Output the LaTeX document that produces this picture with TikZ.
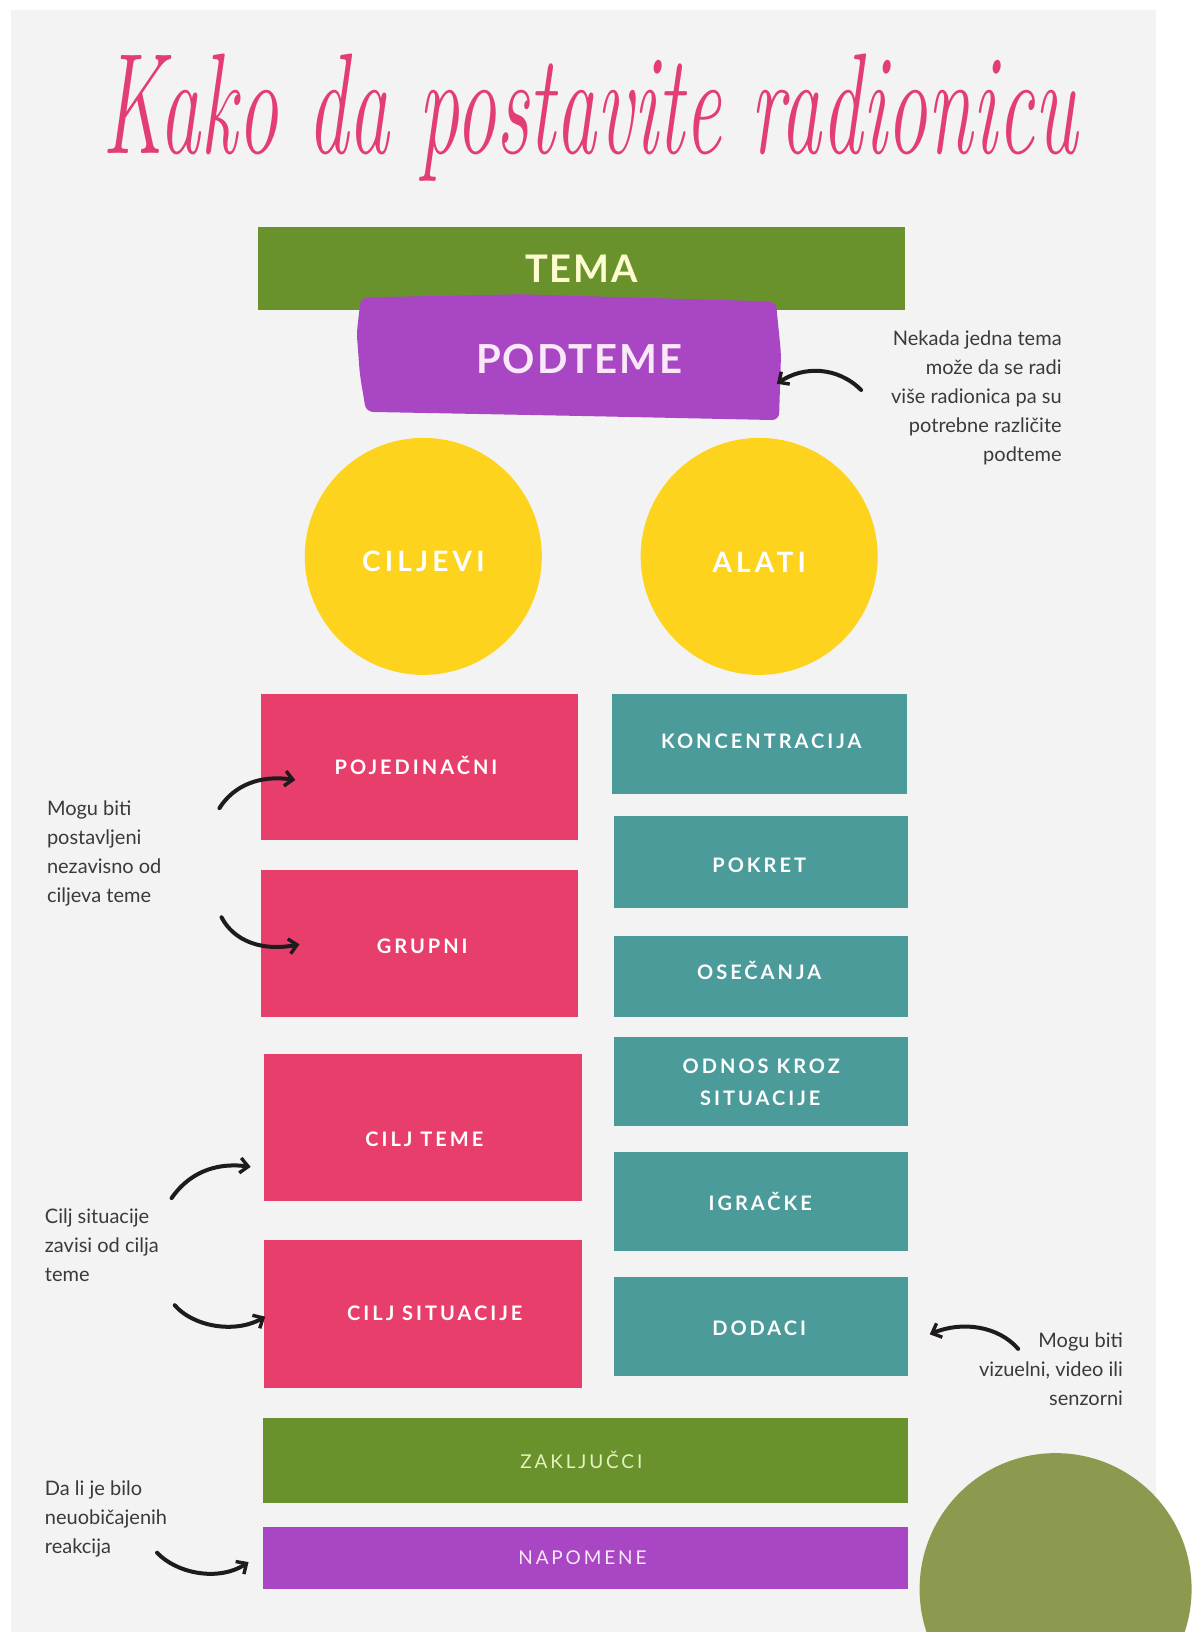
\documentclass[tikz,border=0pt]{standalone}
\usepackage{fontspec}
\usepackage{graphicx}
\usetikzlibrary{arrows.meta,fit}
\newfontfamily\labfont[LetterSpace=15]{Lato}
\newfontfamily\bigfont[LetterSpace=5]{Lato}
\newfontfamily\notefont{Lato}
\definecolor{bggrey}{HTML}{F3F3F3}
\definecolor{pinkc}{HTML}{E83E6C}
\definecolor{tealc}{HTML}{4A9B99}
\definecolor{yellowc}{HTML}{FDD31E}
\definecolor{greenc}{HTML}{6A922C}
\definecolor{purplec}{HTML}{A846C4}
\definecolor{olivec}{HTML}{8B9A4E}
\definecolor{titlec}{HTML}{E23D74}
\definecolor{notegrey}{HTML}{3A3A3A}
\definecolor{arrowc}{HTML}{1E1A1E}
\definecolor{temac}{HTML}{FDFCCF}
\definecolor{zakc}{HTML}{E6F3C0}
\definecolor{napc}{HTML}{F8E8F8}
\begin{document}
\begin{tikzpicture}[x=1.04pt,y=-1.04pt,
  boxfill/.style={inner sep=0pt, outer sep=0pt, draw=none},
  lab/.style={inner sep=0pt, text depth=0pt, text=white},
  boxlab/.style={lab, font=\labfont\bfseries\fontsize{20pt}{24pt}\selectfont, text height=14.4pt},
  circlab/.style={lab, font=\labfont\bfseries\fontsize{28pt}{32pt}\selectfont, text height=20.2pt},
  barlab/.style={lab, font=\labfont\fontsize{19pt}{24pt}\selectfont, text height=13.7pt},
  ycirc/.style={circle, fill=yellowc, minimum size=237pt, inner sep=0pt},
  note/.style={inner sep=0pt, text=notegrey, font=\notefont\fontsize{20pt}{29pt}\selectfont},
  hand/.style={draw=arrowc, line width=4pt, line cap=round,
    -{Straight Barb[length=8pt,width=15pt,line width=3.4pt]}}]
\useasboundingbox (0pt,0pt) rectangle (1191pt,-1632pt);
\fill[white] (0pt,0pt) rectangle (1191pt,-1632pt);
\fill[bggrey] (10.5,9.6) rectangle (1111.5,1570);

% title
\node[inner sep=0pt, text=titlec] (title) at (567,113)
  {\scalebox{1}[1.75]{\fontsize{82pt}{88pt}\selectfont\itshape Kako da postavite radionicu}};

% TEMA and PODTEME
\node[boxfill, fill=greenc, fit={(248,218) (870,298)}] (temabox) {};
\node[lab, text=temac, font=\bigfont\bfseries\fontsize{38pt}{42pt}\selectfont, text height=27.4pt] (tema) at (559,258) {TEMA};
\path[fill=purplec, rounded corners=7pt] (347,286) -- (500,283) -- (746,290) -- (751,340) -- (749,404) -- (560,400) -- (352,396) -- (346,360) -- (343,320) -- cycle;
\node[boxfill, fit={(343,283) (751,404)}] (podbox) {};
\node[lab, text=napc, font=\bigfont\bfseries\fontsize{40pt}{44pt}\selectfont, text height=28.8pt] (podteme) at (557,345) {PODTEME};

% circles
\node[ycirc] (ciljevi) at (407,535) {};
\node[circlab] (ciljevilab) at (407,540) {CILJEVI};
\node[ycirc] (alati) at (730,535) {};
\node[circlab] (alatilab) at (730,541) {ALATI};

% pink boxes
\node[boxfill, fill=pinkc, fit={(251,667) (556,808)}] (pojbox) {};
\node[boxlab] (poj) at (400,738) {POJEDINAČNI};
\node[boxfill, fill=pinkc, fit={(251,837) (556,978)}] (grubox) {};
\node[boxlab] (gru) at (406,910) {GRUPNI};
\node[boxfill, fill=pinkc, fit={(254,1013) (560,1155)}] (ctbox) {};
\node[boxlab] (ct) at (408,1095) {CILJ TEME};
\node[boxfill, fill=pinkc, fit={(254,1192) (560,1335)}] (csbox) {};
\node[boxlab] (cs) at (418,1263) {CILJ SITUACIJE};

% teal boxes
\node[boxfill, fill=tealc, fit={(588,667) (872,763)}] (konbox) {};
\node[boxlab] (kon) at (732,713) {KONCENTRACIJA};
\node[boxfill, fill=tealc, fit={(590,785) (873,873)}] (pokbox) {};
\node[boxlab] (pok) at (730,832) {POKRET};
\node[boxfill, fill=tealc, fit={(590,900) (873,978)}] (osebox) {};
\node[boxlab] (ose) at (730,935) {OSEČANJA};
\node[boxfill, fill=tealc, fit={(590,997) (873,1083)}] (odnbox) {};
\node[boxlab] (odn1) at (732,1025) {ODNOS KROZ};
\node[boxlab] (odn2) at (731,1056) {SITUACIJE};
\node[boxfill, fill=tealc, fit={(590,1108) (873,1203)}] (igrbox) {};
\node[boxlab] (igr) at (731,1157) {IGRAČKE};
\node[boxfill, fill=tealc, fit={(590,1228) (873,1323)}] (dodbox) {};
\node[boxlab] (dod) at (730,1277) {DODACI};

% bottom bars
\node[boxfill, fill=greenc, fit={(253,1363) (873,1445)}] (zakbox) {};
\node[barlab, text=zakc] (zak) at (559,1405) {ZAKLJUČCI};
\node[boxfill, fill=purplec, fit={(253,1468) (873,1528)}] (napbox) {};
\node[barlab, text=napc] (nap) at (560,1498) {NAPOMENE};

% decorative circle
\node[circle, fill=olivec, minimum size=272pt, inner sep=0pt] (olive) at (1015,1528) {};

% notes
\node[note, anchor=north east, align=right] (n1) at (1021,318)
  {Nekada jedna tema\\može da se radi\\više radionica pa su\\potrebne različite\\podteme};
\node[note, anchor=north west, align=left] (n2) at (45,770)
  {Mogu biti\\postavljeni\\nezavisno od\\ciljeva teme};
\node[note, anchor=north west, align=left] (n3) at (43,1162)
  {Cilj situacije\\zavisi od cilja\\teme};
\node[note, anchor=north east, align=right] (n4) at (1080,1281)
  {Mogu biti\\vizuelni, video ili\\senzorni};
\node[note, anchor=north west, align=left] (n5) at (43,1424)
  {Da li je bilo\\neuobičajenih\\reakcija};

% arrow end points
\coordinate (a1s) at (828,375); \coordinate (a1e) at (747,369);
\coordinate (a2s) at (211,777); \coordinate (a2e) at (284,750);
\coordinate (a3s) at (213,882); \coordinate (a3e) at (288,908);
\coordinate (a4s) at (165,1152); \coordinate (a4e) at (241,1122);
\coordinate (a5s) at (168,1255); \coordinate (a5e) at (255,1266);
\coordinate (a6s) at (979,1297); \coordinate (a6e) at (894,1283);
\coordinate (a7s) at (151,1493); \coordinate (a7e) at (239,1502);

\draw[hand] (a1s) .. controls (805,352) and (772,352) .. (a1e);
\draw[hand] (a2s) .. controls (225,755) and (250,745) .. (a2e);
\draw[hand] (a3s) .. controls (225,905) and (252,915) .. (a3e);
\draw[hand] (a4s) .. controls (180,1130) and (205,1117) .. (a4e);
\draw[hand] (a5s) .. controls (185,1275) and (225,1283) .. (a5e);
\draw[hand] (a6s) .. controls (960,1275) and (925,1270) .. (a6e);
\draw[hand] (a7s) .. controls (170,1513) and (210,1521) .. (a7e);
\end{tikzpicture}
\end{document}
